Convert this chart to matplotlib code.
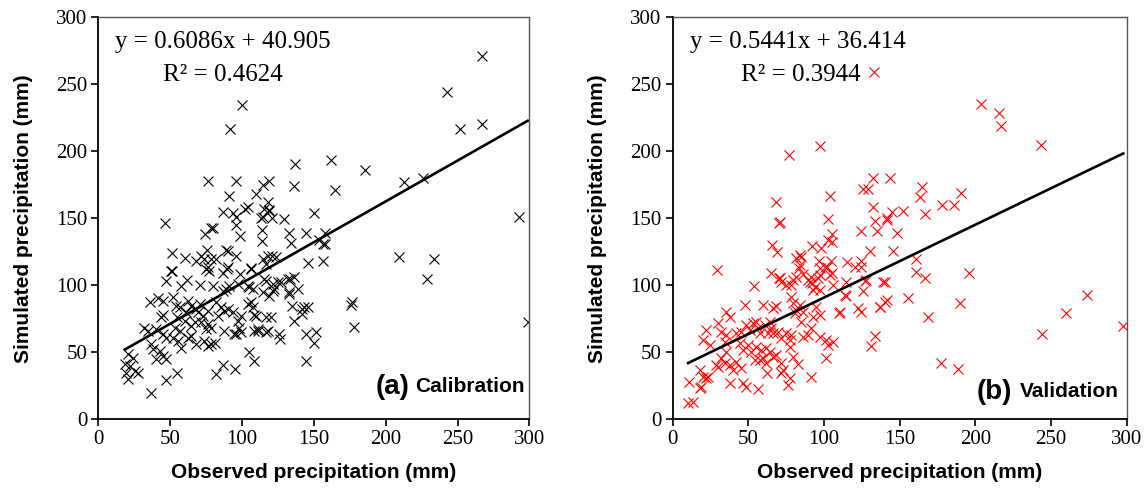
import matplotlib.pyplot as plt
import numpy as np

# 率定期 (calibration) 观测/模拟降水
cal_obs = [266.7, 242.8, 99.8, 91.9, 251.6, 266.7,
           136.8, 161.8, 185.6, 75.9, 95.8, 114.4, 119, 136, 165, 213, 226, 293,
           91, 109.7, 117.8, 86.6, 93.5, 104, 102, 114.4, 119, 115, 119, 120.6, 113, 129.4, 150.2, 46,
           96, 96, 78.5, 80, 74, 113.7, 113.7, 98.8, 132.4, 134, 144.4, 158, 153.7, 158,
           51.4, 60, 68, 71.5, 75.7, 73.8, 78.5, 82, 89, 90, 96, 114.4, 118, 121, 123.6, 116.7, 145.6, 156,
           51.4, 76, 90, 106, 50.7, 75, 77, 86.6, 89.6, 98.8, 106,
           47, 61.8, 57.6, 70.4, 79.6, 86.6, 89, 91, 97, 104, 107.4, 116.7, 121.3, 122.4, 119, 127, 133.5,
           136, 115.5, 124.8, 121.3, 131.7, 105, 114.4,
           132.8, 138.6, 132.8, 135, 136, 142, 145.6, 143.3, 142,
           35.6, 41.4, 45, 51.8, 54, 56.5, 62.3, 64.6, 68, 70.4,
           61, 69, 72.7, 76, 82, 85.4, 83, 45, 43.8, 55, 60, 64.6, 67, 71.5, 76, 78.5, 75,
           87.7, 90, 93.5, 99.3, 104, 108.5, 106, 107.4, 109.7, 116.7, 120,
           97, 98, 95.8, 87.7, 94.6, 99.3, 108.5, 111, 116.7, 126, 126.6, 110.9, 117.8,
           144.4, 151.4, 149.8,
           32, 34.5, 40, 45, 47, 53, 56.5, 51.8, 55.3, 57.6, 62.3,
           36.8, 38, 42.6, 40.3, 45, 47, 64.6, 68, 73.8, 76, 78.5, 81,
           20.6, 24, 18.3, 21.7, 19.4, 20.6, 25.2, 27.5,
           105, 108.5, 82, 86.6, 95.3, 55, 47, 36.8, 144.4,
           209, 233.6, 229, 176.8, 176, 178, 298.8, 156.5]
cal_sim = [270.8, 244.3, 234.8, 216.8, 216.3, 220.5,
           190.5, 193.5, 186, 177.8, 177.8, 174.8, 177.8, 174, 171, 176.8, 180, 151,
           166.5, 168.5, 162.3, 154.8, 154.3, 158.5, 157, 151, 156, 157, 155.5, 150.5, 150.5, 149.8, 154, 146.8,
           151, 145, 143, 142.5, 138.5, 141.5, 132.8, 136.5, 139, 131.5, 139.3, 139.3, 134, 130.5,
           124, 120, 118.5, 121.5, 126, 119.8, 119.8, 119.8, 126, 125.5, 121.5, 119.8, 122, 121.5, 121, 116, 116.5, 118.5,
           111, 113.5, 113.5, 113, 110.3, 111.8, 111, 109.3, 111.8, 108.5, 111.8,
           103.5, 104.3, 99.3, 100.3, 99.8, 96, 97.3, 99.3, 101, 99.3, 97.3, 103.5, 101, 97.3, 91.7, 102.8, 104.8,
           106, 104.8, 102.3, 96, 104.8, 98.5, 94.8,
           94.8, 97.3, 93.5, 84.8, 73.5, 82.3, 83.5, 83.5, 78.5,
           87.8, 90.3, 88.5, 91, 84.8, 83.5, 88.5, 84.8, 82.3, 86,
           79.7, 79.7, 77.3, 81, 87.3, 83.5, 77.3, 77.8, 76, 76, 73.5, 69.8, 72.3, 72.3, 71, 68.5, 67.3,
           81, 82.3, 79.7, 77.3, 86, 77.8, 87.3, 83.5, 77.3, 76, 76,
           73.5, 68.5, 63.5, 66, 63.5, 64.8, 66, 67.3, 64.8, 63.5, 59.8, 66, 66,
           64, 64.8, 57.2,
           68.5, 66, 67.3, 63.5, 61, 68.5, 66, 61, 58.5, 53.5, 61,
           56, 52.3, 51, 44.8, 47.3, 44.8, 62.3, 56, 58.5, 54.8, 56, 57.2,
           48.5, 46, 41, 39.8, 34.8, 29.8, 36, 34.8,
           50.3, 43.5, 34, 40.3, 37.3, 34.8, 29.3, 19.3, 43.5,
           121, 119.8, 104.8, 87.5, 85, 69.2, 72.8, 131]

# 验证期 (validation)
val_obs = [133, 203.5, 215.8, 216.7, 243.3, 97.4, 76.9,
           132.2, 143.8, 126, 129.3, 165, 163.4, 190.5, 177.7, 185.9, 104, 68.3, 132.2,
           144.7, 152.4, 141.4, 141.8, 133.9, 166.7, 102.4, 71, 70.3,
           124.7, 135, 148.4, 105.5, 102.7, 105.5, 98.2, 92.1, 65.9, 69, 130.6, 145.6,
           84, 85, 81.7, 96.7, 104.8, 100.5, 97.2, 115.2, 124.7, 120.3, 124.7, 160.8,
           84, 83.5, 81.7, 86.1, 29.3, 65.2, 71.1, 103.8, 97.2, 91.6, 101.8, 105.1, 160.8, 166.7, 196,
           71.8, 75.1, 70.3, 78.4, 79.6, 90.5, 93.9, 97.2, 92.7, 89.6, 92, 96.2, 106, 114.8, 128, 140.1,
           125.8, 114.8, 113.9, 127.1, 139.2, 53.6,
           78.4, 79.6, 84, 81.7, 86.1, 80.6, 94.9, 97.2, 92.7, 85,
           110.4, 109.9, 122.5, 124.6, 136.8, 140.1, 155.5, 141.4, 137, 189.8, 168.5, 273.5, 259.8, 243.8, 297.7,
           133.5, 131.2, 101.1, 91.6, 177.1, 188.3,
           59.7, 66.3, 68.5, 47.6, 35.5, 37.7,
           30, 32.2, 22.3, 20.1, 24.5, 35.5, 34.4,
           42.1, 45.4, 48.7, 53.1, 55.3, 50.9, 56.4, 57.5, 60.8, 64.1, 65.2, 63, 66.3,
           69.6, 71.8, 75.1, 77.3, 78.4, 77.3,
           86.1, 89.4, 91.6, 97.2, 101.5, 106, 102.7,
           44.3, 46.5, 49.8, 52, 55.3, 58.6, 59.7, 54.2, 61.9,
           61.9, 64.1, 66.3, 68.5,
           35.5, 32.2, 28.9, 30, 34.4, 37.7, 42.1, 45.4, 39.9,
           71.8, 72.9, 77.3, 76.2, 71.8, 82.8, 79.6,
           37.7, 46.5, 48.7, 56.4,
           17.9, 20.1, 22.3, 23.4, 18.9, 17.9, 13.5, 10.2, 10.8,
           62.1, 57.7]
val_sim = [259.4, 235.3, 228.8, 219.1, 204.7, 204, 197.2,
           179.8, 180.3, 171.9, 171.9, 173.1, 165.7, 169, 160.1, 160.1, 166.6, 162.2, 158.2,
           154.9, 155.4, 150, 148.7, 148.2, 153, 149.5, 147.5, 146.3,
           140.7, 140.7, 138.8, 138.3, 133.8, 132.5, 127.6, 129.3, 130.1, 124.6, 125.8, 125.8,
           122.6, 120.9, 120.1, 118.1, 118.4, 113.9, 112.7, 117.6, 118.4, 113.9, 113.9, 119.4,
           115.1, 112.7, 106.4, 108.4, 111.4, 109.4, 105.7, 107.7, 107.7, 106, 113.9, 109, 109.7, 105.2, 109,
           102.7, 100.2, 105.2, 100.2, 104, 102.7, 99, 96.5, 96.5, 104, 101.5, 105.2, 100.2, 102.7, 104, 102.2,
           96, 92, 92.8, 103.4, 102.7, 99.7,
           91.5, 86.6, 85.3, 81.6, 80.3, 79.1, 84, 77.8, 76.6, 72.8,
           80.3, 79.1, 82.8, 80.3, 84, 87.8, 90.3, 89, 84, 86.6, 76.1, 92.8, 79.6, 63.7, 69.6,
           62.2, 54.7, 45.5, 31.8, 41.8, 37.5,
           85.3, 82.8, 84.6, 85.3, 80.3, 76.6,
           71.6, 65.4, 66.6, 59.2, 55.4, 62.9, 57.9,
           64.2, 65.4, 70.4, 71.6, 72.8, 66.6, 67.9, 64.2, 70.4, 72.8, 67.9, 64.2, 64.2,
           65.4, 60.4, 64.2, 59.2, 62.9, 54.2,
           61.6, 62.9, 67.9, 61.6, 59.2, 57.9, 55.4,
           56.7, 51.7, 55.4, 50.4, 54.2, 51.7, 45.5, 44.3, 41.8,
           53, 50.4, 46.7, 48,
           50.4, 45.5, 40.5, 39.3, 41.8, 40.5, 43, 38.1, 36.8,
           41.8, 36.8, 30.6, 25.6, 34.3, 41.3, 46.7,
           26.9, 26.9, 24.3, 22.4,
           36.8, 31.8, 30.6, 31.8, 24.3, 23.1, 13.1, 12.2, 27.9,
           34.8, 44.3]

# 趋势线参数
cal_slope, cal_icpt, cal_r2 = 0.6086, 40.905, 0.4624
val_slope, val_icpt, val_r2 = 0.5441, 36.414, 0.3944

ticks = [0, 50, 100, 150, 200, 250, 300]

serif = ['Liberation Serif', 'DejaVu Serif']
label_font = ['Liberation Sans', 'DejaVu Sans']

fig = plt.figure(figsize=(11.48, 4.9), dpi=100)
ax1 = fig.add_axes([0.0858, 0.1443, 0.3753, 0.8204])
ax2 = fig.add_axes([0.5859, 0.1443, 0.3956, 0.8204])

panels = [
    (ax1, cal_obs, cal_sim, cal_slope, cal_icpt, cal_r2, 'black', '(a)', 'Calibration', 0.723, 0.99, 0.081),
    (ax2, val_obs, val_sim, val_slope, val_icpt, val_r2, 'red', '(b)', 'Validation', 0.747, 0.9815, 0.069),
]

for ax, xo, ys, k, b, r2, col, tag, name, tagx, namex, tagy in panels:
    xo = np.array(xo)
    ys = np.array(ys)
    ax.plot(xo, ys, 'x', color=col, markersize=6.8, markeredgewidth=0.8, zorder=2)
    # 趋势线
    xl = np.array([xo.min(), xo.max()])
    ax.plot(xl, k * xl + b, color='black', linewidth=1.9, zorder=3)

    ax.set_xlim(0, 300)
    ax.set_ylim(0, 300)
    ax.set_xticks(ticks)
    ax.set_yticks(ticks)
    ax.tick_params(direction='out', length=5, width=1.2, labelsize=15, pad=3,
                   top=False, right=False)
    for lab in ax.get_xticklabels() + ax.get_yticklabels():
        lab.set_family(serif)
    for s in ['left', 'bottom']:
        ax.spines[s].set_linewidth(1.3)
        ax.spines[s].set_color('black')
    for s in ['top', 'right']:
        ax.spines[s].set_linewidth(1.0)
        ax.spines[s].set_color('#555555')

    ax.set_xlabel('Observed precipitation (mm)', fontsize=15, fontweight='bold',
                  family=label_font, labelpad=10)
    ax.set_ylabel('Simulated precipitation (mm)', fontsize=15, fontweight='bold',
                  family=label_font, labelpad=17)

    ax.text(0.038, 0.9386, f'y = {k:.4f}x + {b:.3f}', transform=ax.transAxes,
            ha='left', va='center', fontsize=18, family=serif)
    ax.text(0.15, 0.8565, f'R² = {r2:.4f}', transform=ax.transAxes,
            ha='left', va='center', fontsize=18, family=serif)

    ax.text(tagx, tagy, tag, transform=ax.transAxes, ha='right', va='center',
            fontsize=20, fontweight='bold', family=label_font)
    ax.text(namex, tagy, name, transform=ax.transAxes,
            ha='right', va='center', fontsize=15, fontweight='bold', family=label_font)

fig.savefig('out.png', dpi=100)
